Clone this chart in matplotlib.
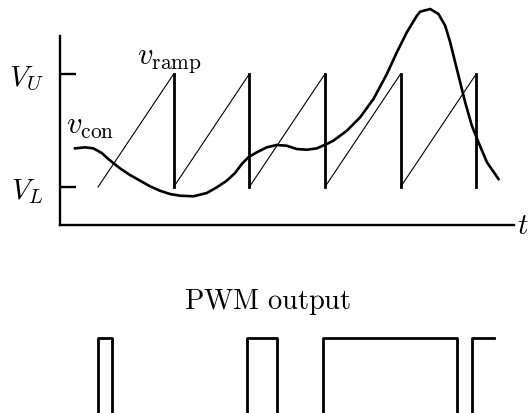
import matplotlib as mpl
mpl.use('Agg')

import numpy as np
import matplotlib.pyplot as plt

mpl.rcParams['mathtext.fontset'] = 'cm'

# time in ramp periods, voltage with V_L = 0 and V_U = 1
ramp_resets = [0, 1, 2, 3, 4, 5]
v_low = 0.0
v_up = 1.0

vcon_t = [-0.304, -0.172, -0.062, 0.049, 0.136, 0.202, 0.291, 0.423, 0.556,
          0.688, 0.820, 0.952, 1.085, 1.261, 1.438, 1.570, 1.702, 1.812,
          1.901, 1.988, 2.099, 2.231, 2.364, 2.496, 2.628, 2.761, 2.893,
          3.025, 3.112, 3.290, 3.466, 3.642, 3.819, 3.951, 4.083, 4.216,
          4.259, 4.392, 4.501, 4.590, 4.656, 4.722, 4.788, 4.854, 4.943,
          5.030, 5.142, 5.295]
vcon_v = [0.342, 0.351, 0.342, 0.301, 0.248, 0.212, 0.165, 0.106, 0.056,
          0.006, -0.033, -0.062, -0.077, -0.082, -0.053, -0.003, 0.056, 0.124,
          0.204, 0.263, 0.307, 0.351, 0.372, 0.365, 0.336, 0.330, 0.342,
          0.381, 0.410, 0.498, 0.617, 0.779, 1.000, 1.192, 1.369, 1.516,
          1.551, 1.575, 1.531, 1.427, 1.281, 1.104, 0.927, 0.750, 0.542,
          0.396, 0.219, 0.071]

pwm_rise = [0.00, 1.97, 2.97, 4.94]
pwm_fall = [0.18, 2.36, 4.74, 5.23]

x0, x1 = -0.503, 5.5

fig = plt.figure(figsize=(5.28, 4.14), dpi=100)

# top: ramp and control voltage
ax = fig.add_axes([60/528, 1 - 226/414, 454/528, 189/414])
ax.set_xlim(x0, x1)
ax.set_ylim(-0.336, 1.336)

for a, b in zip(ramp_resets[:-1], ramp_resets[1:]):
    ax.plot([a, b], [v_low, v_up], color='black', lw=0.8)
    ax.plot([b, b], [v_up, v_low], color='black', lw=2.0)

ax.plot(vcon_t, vcon_v, color='black', lw=1.9, clip_on=False,
        solid_joinstyle='round')

for s in ['top', 'right']:
    ax.spines[s].set_visible(False)
for s in ['left', 'bottom']:
    ax.spines[s].set_linewidth(1.7)
ax.set_xticks([])
ax.set_yticks([v_low, v_up])
ax.set_yticklabels([r'$V_L$', r'$V_U$'], fontsize=21)
ax.tick_params(axis='y', direction='in', length=11.5, width=1.7, pad=12)

ax.text(1.02, 0.0, r'$t$', transform=ax.transAxes, fontsize=21,
        ha='center', va='center')
ax.text(0.95, 1.13, r'$v_{\rm ramp}$', fontsize=22, ha='center', va='center')
ax.text(-0.11, 0.54, r'$v_{\rm con}$', fontsize=22, ha='center', va='center')

# bottom: PWM output
ax2 = fig.add_axes([60/528, 0, 454/528, 84/414])
ax2.set_xlim(x0, x1)
ax2.set_ylim(1 - 75/121, 1 + 9/121)
px, py = [], []
for i, (r, f) in enumerate(zip(pwm_rise, pwm_fall)):
    px += [r, r, f]
    py += [0, 1, 1]
    if i < len(pwm_rise) - 1:
        px.append(f)
        py.append(0)
ax2.plot(px, py, color='black', lw=2.0)
ax2.axis('off')

fig.text(268/528, 1 - 302/414, r'$\mathrm{PWM\ output}$', fontsize=20.5,
         ha='center', va='center')

fig.savefig('out.png', dpi=100)
